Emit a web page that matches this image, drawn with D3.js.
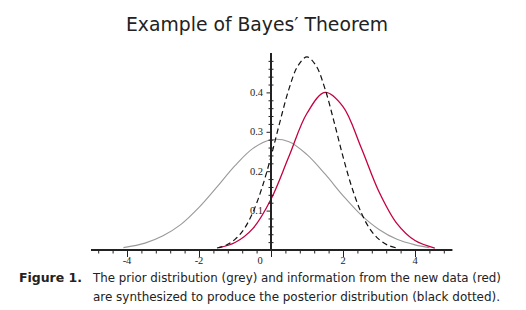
<!DOCTYPE html>
<html>
<head>
<meta charset="utf-8">
<script src="https://cdn.jsdelivr.net/npm/d3@7"></script>
<style>
  body { margin: 0; background: #fff; }
  .title { font-family: 'DejaVu Sans Condensed', 'DejaVu Sans', sans-serif; font-stretch: condensed; font-size: 20px; fill: #222; }
  .caption { font-family: 'DejaVu Sans Condensed', 'DejaVu Sans', sans-serif; font-stretch: condensed; font-size: 13px; fill: #222; }
  .tick-label { font-family: 'Liberation Serif', serif; font-size: 10.5px; fill: #222; }
</style>
</head>
<body>
<svg id="chart"></svg>
<script>
// prior (grey)
const priorX = [-4.1, -3.5, -3, -2.5, -2, -1.5, -1, -0.5, 0, 0.5, 1, 1.5, 2, 2.5, 3, 3.5, 4, 4.4];
const priorY = [0.006, 0.0175, 0.036, 0.065, 0.108, 0.160, 0.214, 0.258, 0.280, 0.275, 0.242, 0.193, 0.138, 0.089, 0.052, 0.027, 0.013, 0.006];

// new data (red)
const dataX = [-1.45, -1, -0.5, 0, 0.5, 1, 1.5, 2, 2.5, 3, 3.5, 4, 4.55];
const dataY = [0.006, 0.019, 0.055, 0.129, 0.238, 0.347, 0.400, 0.364, 0.261, 0.148, 0.067, 0.024, 0.005];

// posterior (black dashed)
const postX = [-1.5, -1.25, -1, -0.75, -0.5, -0.25, 0, 0.25, 0.5, 0.75, 1, 1.25, 1.5, 1.75, 2, 2.25, 2.5, 2.75, 3, 3.25, 3.5];
const postY = [0.005, 0.012, 0.027, 0.053, 0.096, 0.158, 0.237, 0.326, 0.409, 0.468, 0.490, 0.468, 0.409, 0.326, 0.237, 0.158, 0.096, 0.053, 0.027, 0.012, 0.005];

const xTickLabels = [-4, -2, 0, 2, 4];
const yTickLabels = [0.1, 0.2, 0.3, 0.4];

const titleText = "Example of Bayes\u2032 Theorem";
const captionLabel = "Figure 1.";
const captionLines = [
  "The prior distribution (grey) and information from the new data (red)",
  "are synthesized to produce the posterior distribution (black dotted)."
];

const width = 526, height = 310;

const svg = d3.select('#chart')
  .attr('width', width)
  .attr('height', height);

const xScale = d3.scaleLinear().domain([-5, 5]).range([91, 451]);
const yScale = d3.scaleLinear().domain([0, 0.5]).range([250, 53]);

// title
svg.append('text')
  .attr('class', 'title')
  .attr('x', 126)
  .attr('y', 31)
  .attr('textLength', 262)
  .attr('lengthAdjust', 'spacingAndGlyphs')
  .text(titleText);

// curves
const line = d3.line()
  .x(d => xScale(d[0]))
  .y(d => yScale(d[1]))
  .curve(d3.curveCatmullRom.alpha(0.5));

const series = [
  {x: priorX, y: priorY, color: '#999999', width: 1.1, dash: null},
  {x: dataX, y: dataY, color: '#c4003f', width: 1.3, dash: null},
  {x: postX, y: postY, color: '#111111', width: 1.2, dash: '5.5,3.5'}
];

svg.selectAll('.curve')
  .data(series)
  .join('path')
  .attr('class', 'curve')
  .attr('fill', 'none')
  .attr('stroke', d => d.color)
  .attr('stroke-width', d => d.width)
  .attr('stroke-dasharray', d => d.dash)
  .attr('d', d => line(d.x.map((v, i) => [v, d.y[i]])));

// x axis: minor ticks every 0.4
const xAxis = d3.axisBottom(xScale)
  .tickValues(d3.range(-12, 13).map(i => i * 0.4))
  .tickSize(3.5)
  .tickFormat('');

const xAxisG = svg.append('g')
  .attr('transform', `translate(0,${yScale(0)})`)
  .call(xAxis);
xAxisG.select('.domain').remove();
xAxisG.selectAll('line').attr('stroke', '#222');
xAxisG.selectAll('.tick')
  .filter(d => xTickLabels.some(v => Math.abs(v - d) < 1e-6))
  .select('line').attr('y2', 7);

// y axis: minor ticks every 0.02
const yAxis = d3.axisLeft(yScale)
  .tickValues(d3.range(1, 25).map(i => i * 0.02))
  .tickSize(0)
  .tickFormat('');

const yAxisG = svg.append('g')
  .attr('transform', `translate(${xScale(0)},0)`)
  .call(yAxis);
yAxisG.select('.domain').remove();
yAxisG.selectAll('.tick line')
  .attr('x1', 2.5).attr('x2', -2.5)
  .attr('stroke', '#222');
yAxisG.selectAll('.tick')
  .filter(d => yTickLabels.some(v => Math.abs(v - d) < 1e-6))
  .select('line').attr('x1', 0).attr('x2', -4.5);

// axis lines
svg.append('line')
  .attr('x1', xScale(-5)).attr('x2', xScale(5.04))
  .attr('y1', yScale(0)).attr('y2', yScale(0))
  .attr('stroke', '#222').attr('stroke-width', 2);
svg.append('line')
  .attr('x1', xScale(0)).attr('x2', xScale(0))
  .attr('y1', yScale(0) + 1).attr('y2', yScale(0.5))
  .attr('stroke', '#222').attr('stroke-width', 2);

// tick labels
svg.selectAll('.x-label')
  .data(xTickLabels)
  .join('text')
  .attr('class', 'tick-label x-label')
  .attr('x', d => xScale(d) + (d === 0 ? -11 : 0))
  .attr('y', 263.5)
  .attr('text-anchor', 'middle')
  .text(d => d);

svg.selectAll('.y-label')
  .data(yTickLabels)
  .join('text')
  .attr('class', 'tick-label y-label')
  .attr('x', xScale(0) - 8)
  .attr('y', d => yScale(d))
  .attr('dy', '0.35em')
  .attr('text-anchor', 'end')
  .text(d => d.toFixed(1));

// caption
svg.append('text')
  .attr('class', 'caption')
  .attr('x', 19)
  .attr('y', 282)
  .attr('font-weight', 'bold')
  .attr('textLength', 63)
  .attr('lengthAdjust', 'spacingAndGlyphs')
  .text(captionLabel);

svg.selectAll('.caption-line')
  .data(captionLines)
  .join('text')
  .attr('class', 'caption caption-line')
  .attr('x', 93)
  .attr('y', (d, i) => 282 + i * 18.5)
  .attr('textLength', (d, i) => i === 0 ? 408 : 407)
  .attr('lengthAdjust', 'spacingAndGlyphs')
  .text(d => d);
</script>
</body>
</html>
